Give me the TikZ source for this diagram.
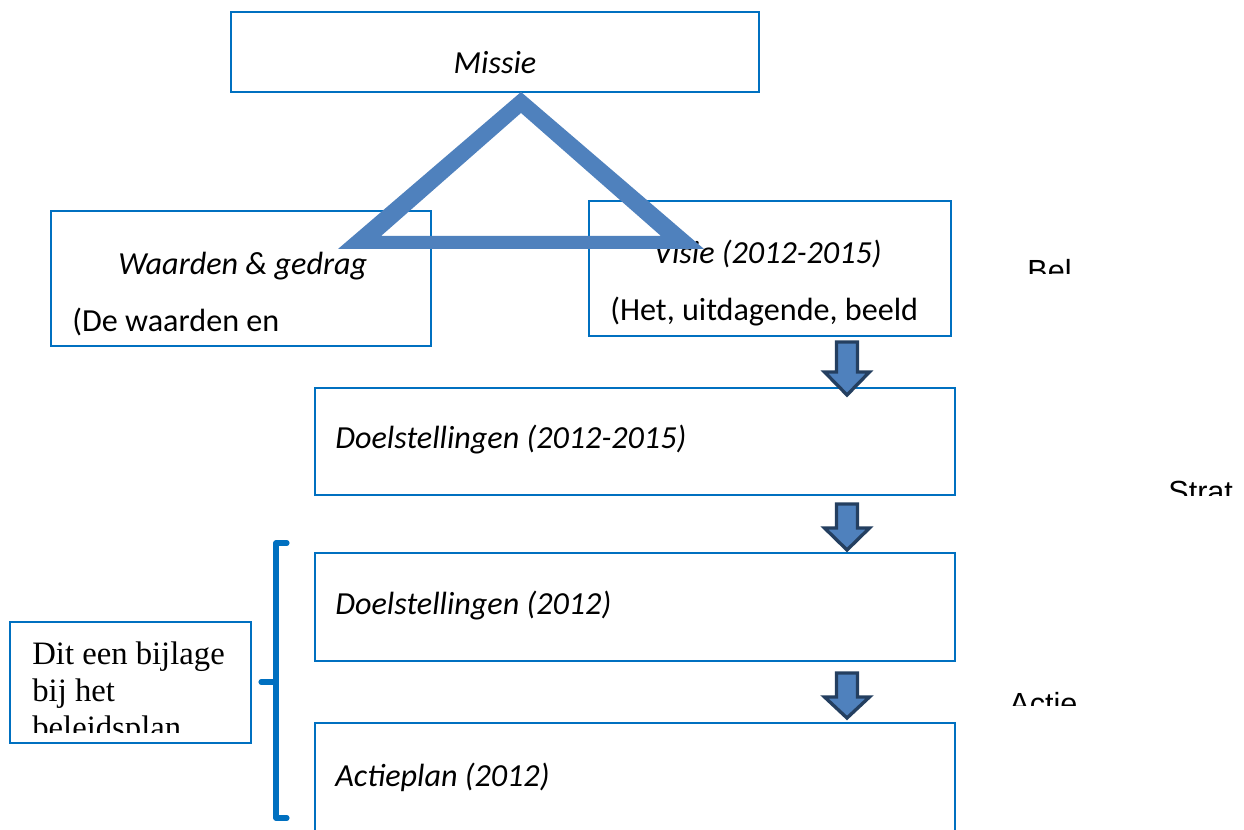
\documentclass[tikz,border=0pt]{standalone}
\usepackage{fontspec}
\usetikzlibrary{fit}
\newfontfamily\carl{Carlito}
\newfontfamily\lsans{Liberation Sans}
\newfontfamily\lserif{Liberation Serif}
\definecolor{boxblue}{RGB}{0,112,192}
\definecolor{triblue}{RGB}{79,129,189}
\definecolor{darknavy}{RGB}{36,63,96}
\tikzset{
  box/.style={draw=boxblue, line width=1.1pt, fill=white, inner sep=0pt},
  ttl/.style={font=\carl\itshape\fontsize{18.3}{22}\selectfont, inner sep=0pt},
  sub/.style={font=\carl\fontsize{18.3}{22}\selectfont, inner sep=0pt},
  side/.style={font=\lsans\fontsize{17.4}{20}\selectfont, inner sep=0pt},
  barrow/.style={draw=darknavy, fill=triblue, line width=1.9pt, line join=miter},
  bracket/.style={draw=boxblue, line width=2.9pt, line cap=round, line join=round},
}
\newcommand\myblockarrow[4]{%
  \filldraw[barrow] (#1-10.5,#2) -- (#1+10.5,#2) -- (#1+10.5,#3) -- (#1+22.5,#3) -- (#1,#4) -- (#1-22.5,#3) -- (#1-10.5,#3) -- cycle;}
\begin{document}
\begin{tikzpicture}[x=0.02cm,y=-0.02cm]
\useasboundingbox (0,0) rectangle (1244,830);
\clip (0,0) rectangle (1244,830);
\fill[white] (0,0) rectangle (1244,830);
% boxes
\node[box, fit={(231,12) (759,92)}] (missie) {};
\node[ttl, anchor=base] (missieT) at (495,74) {Missie};
\node[box, fit={(51,211) (431,346)}] (waarden) {};
\node[ttl, anchor=base west] (waardenT) at (118,275) {Waarden \& gedrag};
\node[sub, anchor=base west] (waardenS) at (72,332) {(De waarden en};
\node[box, fit={(589,201) (951,336)}] (visie) {};
\node[ttl, anchor=base east] (visieT) at (882,264) {Visie (2012-2015)};
\node[sub, anchor=base west] (visieS) at (610,321) {(Het, uitdagende, beeld};
\node[box, fit={(315,388) (955,495)}] (doel1) {};
\node[ttl, anchor=base west] (doel1T) at (335,449) {Doelstellingen (2012-2015)};
\node[box, fit={(315,553) (955,661)}] (doel2) {};
\node[ttl, anchor=base west] (doel2T) at (335,615) {Doelstellingen (2012)};
\node[box, fit={(315,723) (955,860)}] (actie) {};
\node[ttl, anchor=base west] (actieT) at (335,786) {Actieplan (2012)};
% bijlage box
\node[box, fit={(10,622) (251,743)}] (bijlage) {};
\begin{scope}
\clip (10,622) rectangle (251,732);
\node[font=\lserif\fontsize{18.6}{21.3}\selectfont, anchor=north west, align=left, inner sep=0pt] (bijlageT) at (32,641) {Dit een bijlage\\bij het\\beleidsplan};
\end{scope}
% bracket
\draw[bracket] (287,543) -- (276,543) -- (276,818) -- (287,818);
\coordinate (nub) at (261,682);
\draw[bracket] (276,682) -- (nub);
% side labels (clipped)
\begin{scope}
\clip (990,240) rectangle (1244,274);
\node[side, anchor=base west] (bel) at (1027,282) {Bel};
\end{scope}
\begin{scope}
\clip (1100,470) rectangle (1244,496);
\node[side, anchor=base west] (strat) at (1168,503) {Strat};
\end{scope}
\begin{scope}
\clip (990,680) rectangle (1244,705);
\node[side, anchor=base west] (actieS) at (1009,714) {Actie};
\end{scope}
% triangle
\fill[triblue, even odd rule] (521,92) -- (338,249) -- (704,249) -- cycle
  (521,113) -- (381,236) -- (661,236) -- cycle;
% block arrows
\myblockarrow{847}{342}{372}{395}
\myblockarrow{847}{504}{528}{550}
\myblockarrow{847}{673}{697}{718}
\end{tikzpicture}
\end{document}
